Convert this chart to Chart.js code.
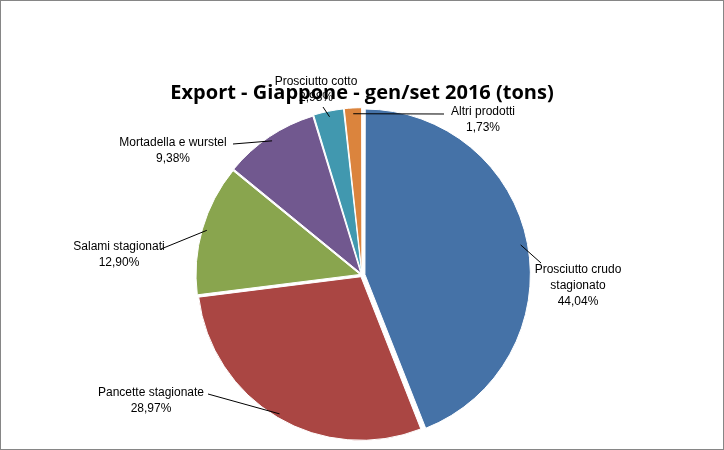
<!DOCTYPE html>
<html><head><meta charset="utf-8">
<script src="https://cdn.jsdelivr.net/npm/chart.js@4/dist/chart.umd.min.js"></script>
<style>html,body{margin:0;background:#fff}#w{position:absolute;left:0;top:0;width:722px;height:448px;border:1px solid #868686}canvas{display:block}</style>
</head><body><div id="w"><canvas id="c" width="722" height="448"></canvas></div>
<script>
const categories=["Prosciutto crudo stagionato","Pancette stagionate","Salami stagionati","Mortadella e wurstel","Prosciutto cotto","Altri prodotti"];
const values=[44.04,28.97,12.90,9.38,2.98,1.73];
const pctLabels=["44,04%","28,97%","12,90%","9,38%","2,98%","1,73%"];
const nameLines=[["Prosciutto crudo","stagionato"],["Pancette stagionate"],["Salami stagionati"],["Mortadella e wurstel"],["Prosciutto cotto"],["Altri prodotti"]];
const colors=["#4572A7","#AA4643","#89A54E","#71588F","#4198AF","#DB843D"];
// label placement (style): text centre x, first line y, leader end x,y
const labelPos=[[577,263,540,262],[150,386,207,393],[118,240,160,248],[172,136,232,143],[315,75,322,106],[482,105,443,113]];
const leader={id:'leader',afterDatasetsDraw(ch){const ctx=ch.ctx;const arcs=ch.getDatasetMeta(0).data;
ctx.save();ctx.font='12px "Liberation Sans", Arial';ctx.fillStyle='#000';ctx.textAlign='center';ctx.textBaseline='top';
arcs.forEach((a,i)=>{const p=a.getProps(['x','y','startAngle','endAngle','outerRadius']);const m=(p.startAngle+p.endAngle)/2;
const ex=p.x+Math.cos(m)*(p.outerRadius-2),ey=p.y+Math.sin(m)*(p.outerRadius-2);
const L=labelPos[i];ctx.strokeStyle='#000';ctx.lineWidth=1;ctx.beginPath();ctx.moveTo(ex,ey);ctx.lineTo(L[2],L[3]);ctx.stroke();
const lines=nameLines[i].concat([pctLabels[i]]);lines.forEach((t,k)=>ctx.fillText(t,L[0],L[1]+k*16));});
ctx.restore();}};
new Chart(document.getElementById('c'),{type:'pie',
data:{labels:categories,datasets:[{data:values,backgroundColor:colors,borderColor:'#fff',borderWidth:1,offset:[12,8,8,8,8,8]}]},
options:{responsive:false,animation:false,devicePixelRatio:1,
layout:{padding:{top:70,bottom:4,left:0,right:0}},
plugins:{legend:{display:false},tooltip:{enabled:false},
title:{display:true,text:'Export - Giappone - gen/set 2016 (tons)',color:'#000',font:{family:'"Open Sans", Arial',size:20,weight:'bold'},padding:{top:10,bottom:0}}}},
plugins:[leader]});
</script>
</body></html>
